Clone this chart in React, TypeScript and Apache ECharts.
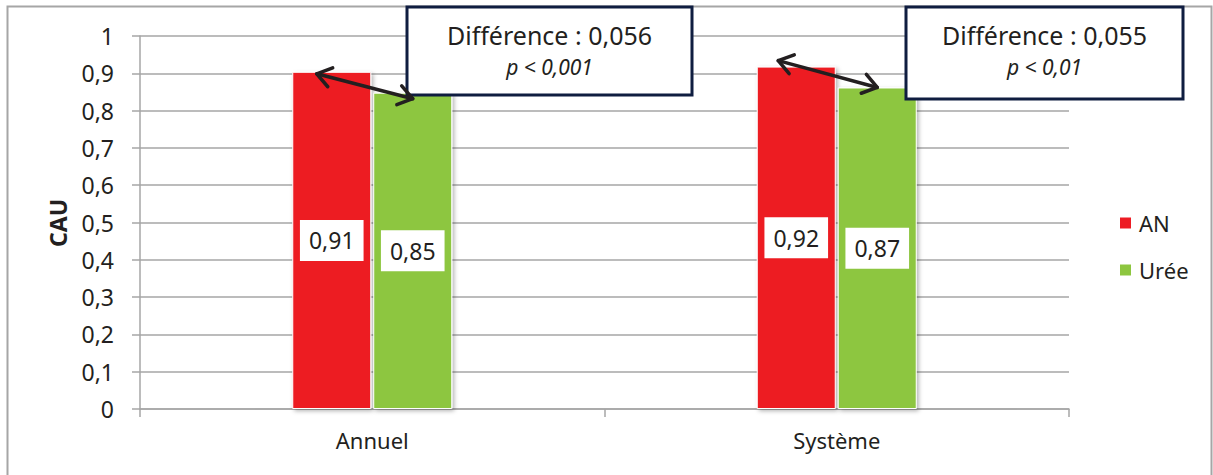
import React, { useEffect, useRef } from "react";
import * as echarts from "echarts";

const categories = ["Annuel", "Système"];
const anValues = [0.904, 0.918];
const ureeValues = [0.848, 0.862];
const anLabels = ["0,91", "0,92"];
const ureeLabels = ["0,85", "0,87"];
const diffTexts = ["Différence : 0,056", "Différence : 0,055"];
const pTexts = ["p < 0,001", "p < 0,01"];

const FONT = "'Noto Sans', 'Open Sans', sans-serif";
const TXT = "#231f20";
const GRIDC = "#a6a6a6";
const BAR_W = 79;
const GAP = 2;

export default function App() {
  const ref = useRef<HTMLDivElement>(null);

  useEffect(() => {
    if (!ref.current) return;
    const chart = echarts.init(ref.current, undefined, { renderer: "svg" });
    const fmtTick = (v: number) => String(Math.round(v * 10) / 10).replace(".", ",");
    const option: any = {
      animation: false,
      backgroundColor: "#fff",
      textStyle: { fontFamily: FONT },
      grid: { left: 140, right: 144, top: 36, bottom: 66 },
      legend: {
        orient: "vertical",
        left: 1113,
        top: 205,
        icon: "rect",
        itemWidth: 13,
        itemHeight: 13,
        itemGap: 21,
        data: ["AN", "Urée"],
        textStyle: { fontFamily: FONT, fontSize: 22, color: TXT, lineHeight: 26, padding: [0, 0, 0, 2] },
      },
      xAxis: {
        type: "category",
        data: categories,
        axisLine: { lineStyle: { color: GRIDC, width: 1.5 } },
        axisTick: { show: true, length: 8, lineStyle: { color: GRIDC, width: 1.5 } },
        axisLabel: { fontFamily: FONT, fontSize: 22, color: TXT, margin: 20 },
      },
      yAxis: {
        type: "value",
        min: 0,
        max: 1,
        interval: 0.1,
        axisLine: { show: true, lineStyle: { color: GRIDC, width: 1.5 } },
        axisTick: { show: true, length: 8, lineStyle: { color: GRIDC, width: 1.5 } },
        axisLabel: { fontFamily: FONT, fontSize: 23, color: TXT, margin: 26, formatter: fmtTick },
        splitLine: { lineStyle: { color: GRIDC, width: 1.5 } },
      },
      series: [
        {
          name: "AN",
          type: "bar",
          data: anValues,
          barWidth: BAR_W,
          barGap: ((GAP / BAR_W) * 100).toFixed(2) + "%",
          itemStyle: {
            color: "#ed1c24",
            borderColor: "#fff",
            borderWidth: 1,
            shadowBlur: 4,
            shadowColor: "rgba(0,0,0,0.3)",
            shadowOffsetX: 2,
            shadowOffsetY: 2,
          },
          label: {
            show: true,
            position: "inside",
            formatter: (p: any) => anLabels[p.dataIndex],
            backgroundColor: "#fff",
            padding: [6, 9],
            fontFamily: FONT,
            fontSize: 23,
            lineHeight: 29,
            color: TXT,
          },
        },
        {
          name: "Urée",
          type: "bar",
          data: ureeValues,
          barWidth: BAR_W,
          itemStyle: {
            color: "#8dc63f",
            borderColor: "#fff",
            borderWidth: 1,
            shadowBlur: 4,
            shadowColor: "rgba(0,0,0,0.3)",
            shadowOffsetX: 2,
            shadowOffsetY: 2,
          },
          label: {
            show: true,
            position: "inside",
            formatter: (p: any) => ureeLabels[p.dataIndex],
            backgroundColor: "#fff",
            padding: [6, 9],
            fontFamily: FONT,
            fontSize: 23,
            lineHeight: 29,
            color: TXT,
          },
        },
      ],
    };
    chart.setOption(option);

    const arrowOffsets = [
      { dx1: -15, dy1: 2, dx2: 0, dy2: 6 },
      { dx1: -18, dy1: -6, dx2: 0, dy2: 0 },
    ];
    const boxes = [
      { x: 407, y: 7, w: 285, h: 88 },
      { x: 906, y: 7, w: 277, h: 92 },
    ];

    const graphics: any[] = [];
    graphics.push({
      type: "rect",
      shape: { x: 7.5, y: 6.5, width: 1204, height: 520 },
      style: { fill: "none", stroke: "#a6a6a6", lineWidth: 2 },
      silent: true,
      z: 0,
    });
    graphics.push({
      type: "text",
      x: 58,
      y: 223,
      rotation: Math.PI / 2,
      style: {
        text: "CAU",
        fontFamily: FONT,
        fontWeight: "bold",
        fontSize: 23,
        fill: TXT,
        align: "center",
        verticalAlign: "middle",
      },
      z: 10,
    });

    boxes.forEach((b, i) => {
      graphics.push({
        type: "rect",
        shape: { x: b.x, y: b.y, width: b.w, height: b.h },
        style: { fill: "#fff", stroke: "#0f1d40", lineWidth: 3 },
        z: 20,
      });
      graphics.push({
        type: "text",
        x: b.x + b.w / 2,
        y: 35,
        style: {
          text: diffTexts[i],
          fontFamily: FONT,
          fontSize: 25,
          fill: TXT,
          align: "center",
          verticalAlign: "middle",
        },
        z: 21,
      });
      graphics.push({
        type: "text",
        x: b.x + b.w / 2,
        y: 67,
        style: {
          text: pTexts[i],
          fontFamily: FONT,
          fontStyle: "italic",
          fontSize: 21,
          fill: TXT,
          align: "center",
          verticalAlign: "middle",
        },
        z: 21,
      });
    });

    const half = (BAR_W + GAP) / 2;
    const armLen = 17;
    const ang = (35 * Math.PI) / 180;
    categories.forEach((_, i) => {
      const pRed = chart.convertToPixel({ gridIndex: 0 }, [i, anValues[i]]) as number[];
      const pGreen = chart.convertToPixel({ gridIndex: 0 }, [i, ureeValues[i]]) as number[];
      const o = arrowOffsets[i];
      const a = [pRed[0] - half + o.dx1, pRed[1] + o.dy1];
      const b = [pGreen[0] + half + o.dx2, pGreen[1] + o.dy2];
      const th = Math.atan2(b[1] - a[1], b[0] - a[0]);
      const style = { stroke: "#231f20", lineWidth: 3.5, lineCap: "round", lineJoin: "round", fill: "none" };
      graphics.push({
        type: "line",
        shape: { x1: a[0], y1: a[1], x2: b[0], y2: b[1] },
        style,
        z: 30,
      });
      graphics.push({
        type: "polyline",
        shape: {
          points: [
            [a[0] + armLen * Math.cos(th + ang), a[1] + armLen * Math.sin(th + ang)],
            a,
            [a[0] + armLen * Math.cos(th - ang), a[1] + armLen * Math.sin(th - ang)],
          ],
        },
        style,
        z: 30,
      });
      graphics.push({
        type: "polyline",
        shape: {
          points: [
            [b[0] - armLen * Math.cos(th + ang), b[1] - armLen * Math.sin(th + ang)],
            b,
            [b[0] - armLen * Math.cos(th - ang), b[1] - armLen * Math.sin(th - ang)],
          ],
        },
        style,
        z: 30,
      });
    });

    chart.setOption({ graphic: graphics });

    return () => chart.dispose();
  }, []);

  return (
    <div
      ref={ref}
      style={{ position: "absolute", left: 0, top: 0, width: 1213, height: 475 }}
    />
  );
}
